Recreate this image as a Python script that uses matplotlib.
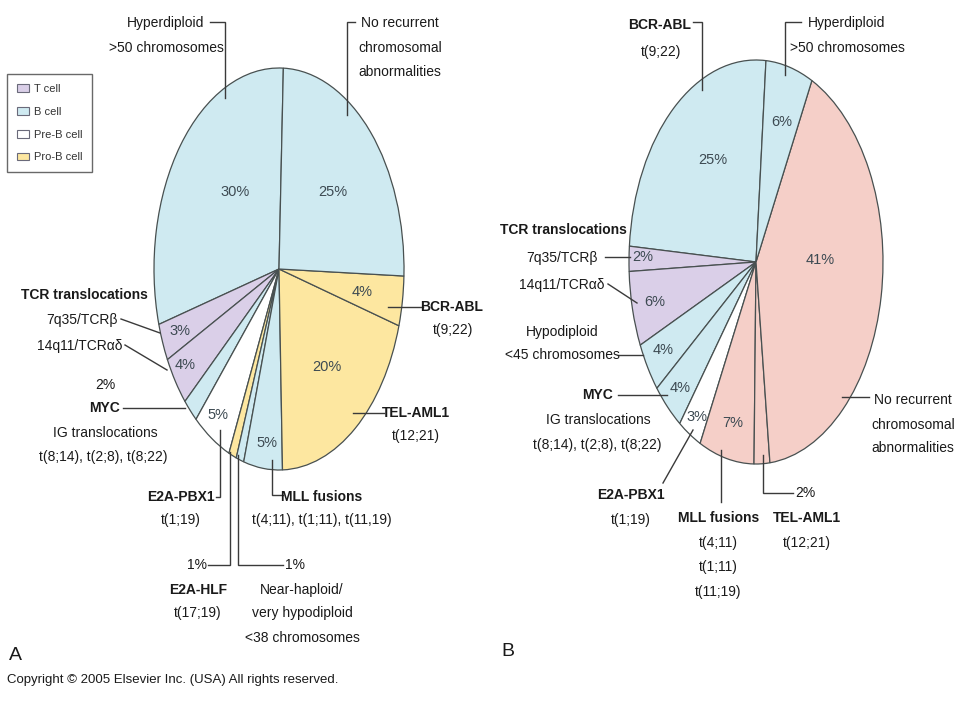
import matplotlib
matplotlib.use('Agg')
import matplotlib.pyplot as plt
from matplotlib.patches import Patch

# ---------------- data ----------------
cell_types = ['T cell', 'B cell', 'Pre-B cell', 'Pro-B cell']

a_categories = ['Hyperdiploid >50 chromosomes', '7q35/TCRβ', '14q11/TCRαδ', 'MYC',
                'E2A-PBX1', 'E2A-HLF', 'Near-haploid/very hypodiploid <38 chromosomes',
                'MLL fusions', 'TEL-AML1', 'BCR-ABL', 'No recurrent chromosomal abnormalities']
a_values = [30, 3, 4, 2, 5, 1, 1, 5, 20, 4, 25]
a_types = ['B cell', 'T cell', 'T cell', 'B cell', 'Pre-B cell', 'Pro-B cell',
           'B cell', 'B cell', 'Pro-B cell', 'Pro-B cell', 'B cell']

b_categories = ['BCR-ABL', '7q35/TCRβ', '14q11/TCRαδ', 'Hypodiploid <45 chromosomes', 'MYC',
                'E2A-PBX1', 'MLL fusions', 'TEL-AML1', 'No recurrent chromosomal abnormalities',
                'Hyperdiploid >50 chromosomes']
b_values = [25, 2, 6, 4, 4, 3, 7, 2, 41, 6]
b_types = ['B cell', 'T cell', 'T cell', 'B cell', 'B cell', 'Pre-B cell',
           'Other', 'Other', 'Other', 'B cell']

# ---------------- style ----------------
FAM = ['Liberation Sans', 'DejaVu Sans']
plt.rcParams['font.family'] = FAM
colors = {'T cell': '#dacfe8', 'B cell': '#cfeaf1', 'Pre-B cell': '#ffffff',
          'Pro-B cell': '#fde7a0', 'Other': '#f5cfc8'}
EDGE = '#485050'
LEAD = '#3a3a3a'
TXT = '#1a1a1a'
PCT = '#3d4a52'
FS = 10
W, H = 960, 720

fig = plt.figure(figsize=(9.6, 7.2), dpi=100)
fig.patch.set_facecolor('white')


def pie_axes(cx, cy, rx, ry, m=1.03):
    left = (cx - rx * m) / W
    bottom = 1 - (cy + ry * m) / H
    ax = fig.add_axes([left, bottom, 2 * rx * m / W, 2 * ry * m / H])
    return ax, m


def draw_pie(cx, cy, rx, ry, values, types, start):
    ax, m = pie_axes(cx, cy, rx, ry)
    ax.pie(values, colors=[colors[t] for t in types], startangle=start,
           counterclock=True, radius=1.0,
           wedgeprops=dict(edgecolor=EDGE, linewidth=0.9))
    ax.set_xlim(-m, m)
    ax.set_ylim(-m, m)
    ax.set_aspect('auto')
    ax.axis('off')
    return ax


axA = draw_pie(279, 269, 125, 201, a_values, a_types, 88)
axB = draw_pie(756, 262, 127, 202, b_values, b_types, 85.5)

# overlay in pixel coordinates
ov = fig.add_axes([0, 0, 1, 1], zorder=5)
ov.set_xlim(0, W)
ov.set_ylim(H, 0)
ov.axis('off')
ov.patch.set_alpha(0)


def t(x, y, s, bold=False, ha='center', color=TXT, fs=FS):
    ov.text(x, y, s, ha=ha, va='center', fontsize=fs, color=color,
            fontweight='bold' if bold else 'normal', family=FAM)


def lead(pts):
    ov.plot([p[0] for p in pts], [p[1] for p in pts], color=LEAD, lw=1.0,
            solid_joinstyle='miter', clip_on=False)


# ---- inside percentages ----
a_pct_pos = [(235, 192), (180, 331), (185, 365), None, (218, 415), None, None,
             (267, 443), (327, 367), (362, 292), (333, 192)]
b_pct_pos = [(713, 160), (643, 257), (655, 302), (663, 350), (680, 388), (697, 417),
             (733, 423), None, (820, 260), (782, 122)]
for vals, pos in ((a_values, a_pct_pos), (b_values, b_pct_pos)):
    for v, p in zip(vals, pos):
        if p is not None:
            t(p[0], p[1], f'{v}%', color=PCT, fs=10.5)

# ---- panel A labels ----
t(166, 23, 'Hyperdiploid')
t(166, 48, '>50 chromosomes')
lead([(225, 98), (225, 22), (210, 22)])

t(400, 23, 'No recurrent')
t(400, 48, 'chromosomal')
t(400, 72, 'abnormalities')
lead([(347, 115), (347, 22), (355, 22)])

t(452, 307, 'BCR-ABL', bold=True)
t(453, 330, 't(9;22)')
lead([(388, 307), (423, 307)])

t(416, 413, 'TEL-AML1', bold=True)
t(416, 436, 't(12;21)')
lead([(353, 413), (384, 413)])

t(322, 497, 'MLL fusions', bold=True)
t(322, 520, 't(4;11), t(1;11), t(11,19)')
lead([(272, 460), (272, 495), (283, 495)])

t(181, 497, 'E2A-PBX1', bold=True)
t(181, 520, 't(1;19)')
lead([(220, 430), (220, 497), (216, 497)])

t(197, 565, f'{a_values[5]}%')
t(198, 590, 'E2A-HLF', bold=True)
t(198, 613, 't(17;19)')
lead([(230, 452), (230, 565), (208, 565)])

t(295, 565, f'{a_values[6]}%')
t(302, 590, 'Near-haploid/')
t(302, 613, 'very hypodiploid')
t(302, 638, '<38 chromosomes')
lead([(238, 455), (238, 565), (283, 565)])

t(105, 385, f'{a_values[3]}%')
t(105, 408, 'MYC', bold=True)
t(105, 433, 'IG translocations')
t(103, 457, 't(8;14), t(2;8), t(8;22)')
lead([(185, 408), (123, 408)])

t(84, 295, 'TCR translocations', bold=True)
t(118, 320, '7q35/TCRβ', ha='right')
lead([(160, 333), (121, 319)])
t(122, 346, '14q11/TCRαδ', ha='right')
lead([(167, 370), (125, 345)])

# ---- panel B labels ----
t(660, 25, 'BCR-ABL', bold=True)
t(661, 52, 't(9;22)')
lead([(702, 90), (702, 22), (693, 22)])

t(847, 23, 'Hyperdiploid')
t(847, 48, '>50 chromosomes')
lead([(785, 75), (785, 22), (801, 22)])

t(563, 230, 'TCR translocations', bold=True)
t(598, 258, '7q35/TCRβ', ha='right')
lead([(630, 257), (605, 257)])
t(605, 285, '14q11/TCRαδ', ha='right')
lead([(637, 303), (608, 284)])

t(562, 332, 'Hypodiploid')
t(562, 355, '<45 chromosomes')
lead([(643, 355), (618, 355)])

t(613, 395, 'MYC', bold=True, ha='right')
lead([(667, 395), (618, 395)])
t(598, 420, 'IG translocations')
t(597, 445, 't(8;14), t(2;8), t(8;22)')

t(631, 495, 'E2A-PBX1', bold=True)
t(631, 520, 't(1;19)')
lead([(693, 430), (663, 483)])

t(719, 518, 'MLL fusions', bold=True)
t(718, 543, 't(4;11)')
t(718, 567, 't(1;11)')
t(718, 592, 't(11;19)')
lead([(721, 450), (721, 502)])

t(805, 493, f'{b_values[7]}%')
lead([(763, 455), (763, 493), (793, 493)])
t(807, 518, 'TEL-AML1', bold=True)
t(807, 543, 't(12;21)')

t(913, 400, 'No recurrent')
t(913, 425, 'chromosomal')
t(913, 448, 'abnormalities')
lead([(842, 397), (869, 397)])

# panel letters and copyright
t(9, 655, 'A', ha='left', fs=14)
t(501, 652, 'B', ha='left', fs=14)
t(7, 680, 'Copyright © 2005 Elsevier Inc. (USA) All rights reserved.', ha='left', fs=9.5)

# legend
handles = [Patch(facecolor=colors[c], edgecolor='#6a6a7a', linewidth=0.8, label=c)
           for c in cell_types]
leg = fig.legend(handles=handles, loc='upper left',
                 bbox_to_anchor=(7 / W, 1 - 74 / H), fontsize=8,
                 frameon=True, fancybox=False, edgecolor='#444444',
                 handlelength=1.1, handleheight=0.7, handletextpad=0.4,
                 labelspacing=1.15, borderpad=0.9, borderaxespad=0.0)
leg.get_frame().set_linewidth(1.0)
for txt in leg.get_texts():
    txt.set_color('#333333')

fig.savefig('out.png', dpi=100, facecolor='white')
